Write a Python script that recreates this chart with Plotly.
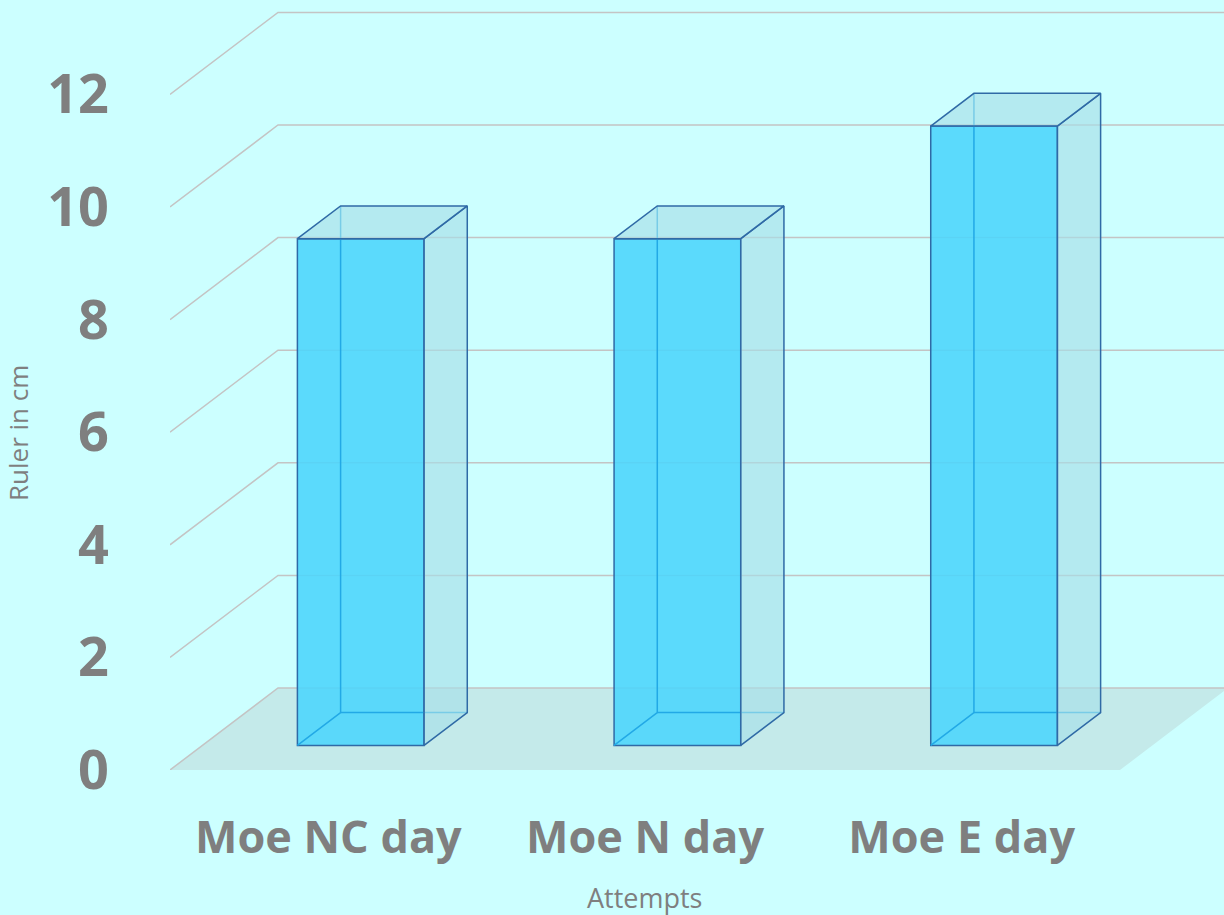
import plotly.graph_objects as go

# ---- data ----
categories = ["Moe NC day", "Moe N day", "Moe E day"]
values = [9, 9, 11]
y_ticks = [0, 2, 4, 6, 8, 10, 12]
x_title = "Attempts"
y_title = "Ruler in cm"

# ---- style / geometry (oblique 3D projection) ----
W, H = 1224, 915
ML, MR, MT, MB = 170, 0, 0, 145
PX_PER_CAT = 316.67
PX_PER_UNIT = 56.3
X_MIN = -0.5
X_MAX = X_MIN + (W - ML - MR) / PX_PER_CAT
Y_MAX = (H - MT - MB) / PX_PER_UNIT
DX = 108 / PX_PER_CAT      # full depth shift in x (category units)
DY = 82 / PX_PER_UNIT      # full depth shift in y (value units)
T_FRONT, T_BACK = 0.3, 0.7
BAR_W = 0.4

BG = "#ccffff"
GRID = "#c4c4c4"
FLOOR = "#c4eaea"
FRONT = "rgba(75,213,252,0.88)"
SIDE = "rgba(168,222,232,0.65)"
EDGE = "#2f6aa6"
INNER = "#22a9e6"
TXT = "#7f7f7f"
FONT = "Open Sans"

fig = go.Figure()

n = len(categories)
x_lo, x_hi = X_MIN, X_MIN + n


def path(pts):
    return "M " + " L ".join(f"{x},{y}" for x, y in pts)


shapes = []
# floor (below traces)
shapes.append(dict(type="path", xref="x", yref="y", layer="below",
                   path=path([(x_lo, 0), (x_hi, 0), (x_hi + DX, DY), (x_lo + DX, DY)]) + " Z",
                   fillcolor=FLOOR, line=dict(width=0)))
# gridlines: left wall slant + back wall
for v in y_ticks:
    shapes.append(dict(type="path", xref="x", yref="y", layer="below",
                       path=path([(x_lo, v), (x_lo + DX, v + DY), (X_MAX + 1, v + DY)]),
                       line=dict(color=GRID, width=1.5)))

fdx, fdy = DX * T_FRONT, DY * T_FRONT
bdx, bdy = DX * T_BACK, DY * T_BACK

# front faces as real bars
fig.add_trace(go.Bar(
    x=[i + fdx for i in range(n)], y=values, base=fdy, width=BAR_W,
    marker=dict(color=FRONT, line=dict(color=EDGE, width=1.5)),
    showlegend=False, name=""))

for i, v in enumerate(values):
    x0 = i - BAR_W / 2
    x1 = i + BAR_W / 2
    # hidden (inner) edges
    fig.add_trace(go.Scatter(
        x=[x0 + fdx, x0 + bdx, x0 + bdx, None, x0 + bdx, x1 + bdx],
        y=[fdy, bdy, v + bdy, None, bdy, bdy],
        mode="lines", line=dict(color=INNER, width=1.5),
        hoverinfo="skip", showlegend=False))
    # right side face
    fig.add_trace(go.Scatter(
        x=[x1 + fdx, x1 + bdx, x1 + bdx, x1 + fdx, x1 + fdx],
        y=[fdy, bdy, v + bdy, v + fdy, fdy],
        fill="toself", fillcolor=SIDE, mode="lines",
        line=dict(color=EDGE, width=1.5),
        hoverinfo="skip", showlegend=False))
    # top face
    fig.add_trace(go.Scatter(
        x=[x0 + fdx, x1 + fdx, x1 + bdx, x0 + bdx, x0 + fdx],
        y=[v + fdy, v + fdy, v + bdy, v + bdy, v + fdy],
        fill="toself", fillcolor=SIDE, mode="lines",
        line=dict(color=EDGE, width=1.5),
        hoverinfo="skip", showlegend=False))

fig.update_layout(
    width=W, height=H,
    margin=dict(l=ML, r=MR, t=MT, b=MB),
    paper_bgcolor=BG, plot_bgcolor=BG,
    font=dict(family=FONT, color=TXT),
    showlegend=False,
    shapes=shapes,
    xaxis=dict(range=[X_MIN, X_MAX], tickmode="array",
               tickvals=list(range(n)), ticktext=categories,
               showgrid=False, zeroline=False, showline=False, ticks="",
               tickfont=dict(size=45, color=TXT, family=FONT, weight="bold"),
               ticklabelstandoff=37, fixedrange=True),
    yaxis=dict(range=[0, Y_MAX], tickmode="array",
               tickvals=y_ticks, ticktext=[str(t) for t in y_ticks],
               showgrid=False, zeroline=False, showline=False, ticks="",
               tickfont=dict(size=54, color=TXT, family=FONT, weight="bold"),
               ticklabelstandoff=60, fixedrange=True),
    annotations=[
        dict(text=x_title, xref="x", yref="paper",
             x=(x_lo + x_hi) / 2, y=-0.166, yanchor="middle",
             showarrow=False, font=dict(size=27, color=TXT, family=FONT)),
        dict(text=y_title, xref="paper", yref="y", textangle=-90,
             x=-152 / (W - ML - MR), y=Y_MAX * (1 - 433 / (H - MT - MB)),
             xanchor="center", yanchor="middle",
             showarrow=False, font=dict(size=26, color=TXT, family=FONT)),
    ],
)

fig.write_html("out.html")
